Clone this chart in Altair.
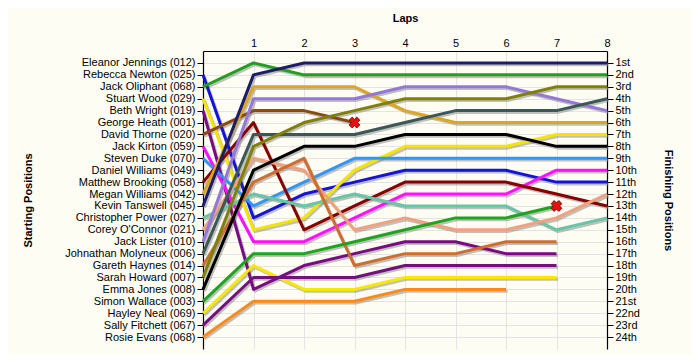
import json
import altair as alt
import pandas as pd

# Starting grid (positions 1..24)
drivers = [
    "Eleanor Jennings (012)", "Rebecca Newton (025)", "Jack Oliphant (068)",
    "Stuart Wood (029)", "Beth Wright (019)", "George Heath (001)",
    "David Thorne (020)", "Jack Kirton (059)", "Steven Duke (070)",
    "Daniel Williams (049)", "Matthew Brooking (058)", "Megan Williams (042)",
    "Kevin Tanswell (045)", "Christopher Power (027)", "Corey O'Connor (021)",
    "Jack Lister (010)", "Johnathan Molyneux (006)", "Gareth Haynes (014)",
    "Sarah Howard (007)", "Emma Jones (008)", "Simon Wallace (003)",
    "Hayley Neal (069)", "Sally Fitchett (067)", "Rosie Evans (068)",
]

finish_labels = [
    "1st", "2nd", "3rd", "4th", "5th", "6th", "7th", "8th", "9th", "10th",
    "11th", "12th", "13th", "14th", "15th", "16th", "17th", "18th", "19th",
    "20th", "21st", "22nd", "23rd", "24th",
]

laps = [1, 2, 3, 4, 5, 6, 7, 8]

# Position at lap 0, 1, 2, ... for each driver who started
pos_rebecca = [2, 14, 12, 11, 10, 10, 10, 11, 11]
pos_oliphant = [3, 1, 2, 2, 2, 2, 2, 2, 2]
pos_wood = [4, 15, 14, 10, 8, 8, 8, 7, 7]
pos_wright = [5, 20, 18, 17, 16, 16, 17, 17]
pos_thorne = [7, 5, 5, 6]
pos_kirton = [8, 16, 16, 14, 12, 12, 12, 10, 10]
pos_duke = [9, 13, 11, 9, 9, 9, 9, 9, 9]
pos_brooking = [11, 6, 15, 13, 11, 11, 11, 12, 13]
pos_megan = [12, 3, 3, 3, 5, 6, 6, 6, 6]
pos_tanswell = [13, 2, 1, 1, 1, 1, 1, 1, 1]
pos_power = [14, 12, 13, 12, 13, 13, 13, 15, 14]
pos_oconnor = [15, 9, 10, 15, 14, 15, 15, 14, 12]
pos_lister = [16, 4, 4, 4, 3, 3, 3, 4, 5]
pos_molyneux = [17, 7, 7, 7, 6, 5, 5, 5, 4]
pos_haynes = [18, 11, 9, 18, 17, 17, 16, 16]
pos_howard = [19, 8, 6, 5, 4, 4, 4, 3, 3]
pos_jones = [20, 10, 8, 8, 7, 7, 7, 8, 8]
pos_wallace = [21, 17, 17, 16, 15, 14, 14, 13]
pos_neal = [22, 18, 20, 20, 19, 19, 19, 19]
pos_fitchett = [23, 19, 19, 19, 18, 18, 18, 18]
pos_evans = [24, 21, 21, 21, 20, 20, 20]

series = [
    ("Rebecca Newton (025)", pos_rebecca, "#1414d8"),
    ("Jack Oliphant (068)", pos_oliphant, "#1fa01f"),
    ("Stuart Wood (029)", pos_wood, "#f5e400"),
    ("Beth Wright (019)", pos_wright, "#7a0a82"),
    ("David Thorne (020)", pos_thorne, "#8a4a12"),
    ("Jack Kirton (059)", pos_kirton, "#ff10ff"),
    ("Steven Duke (070)", pos_duke, "#3396f5"),
    ("Matthew Brooking (058)", pos_brooking, "#860000"),
    ("Megan Williams (042)", pos_megan, "#dca623"),
    ("Kevin Tanswell (045)", pos_tanswell, "#1c1c6a"),
    ("Christopher Power (027)", pos_power, "#66c6a6"),
    ("Corey O'Connor (021)", pos_oconnor, "#f3a07e"),
    ("Jack Lister (010)", pos_lister, "#9577d8"),
    ("Johnathan Molyneux (006)", pos_molyneux, "#3b5757"),
    ("Gareth Haynes (014)", pos_haynes, "#cd6e30"),
    ("Sarah Howard (007)", pos_howard, "#7f7f0a"),
    ("Emma Jones (008)", pos_jones, "#000000"),
    ("Simon Wallace (003)", pos_wallace, "#1ea51e"),
    ("Hayley Neal (069)", pos_neal, "#f8e800"),
    ("Sally Fitchett (067)", pos_fitchett, "#74107e"),
    ("Rosie Evans (068)", pos_evans, "#ff8a1c"),
]

# Retirements: lap and position of the red crosses
retire_laps = [3, 7]
retire_pos = [6, 13]

rows = []
for name, plist, _c in series:
    for lap, p in enumerate(plist):
        rows.append({"driver": name, "lap": lap, "pos": p})
df = pd.DataFrame(rows)
df_x = pd.DataFrame({"lap": retire_laps, "pos": retire_pos})

FONT = "Liberation Sans"

x_enc = alt.X(
    "lap:Q",
    scale=alt.Scale(domain=[0, 8], nice=False, zero=False),
    axis=alt.Axis(
        orient="top", values=laps, title="Laps", titleFontWeight="bold",
        titleFont=FONT, titleFontSize=11, titleColor="black",
        titleY=-33, titleBaseline="middle",
        labelFont=FONT, labelFontSize=11, labelColor="black",
        tickSize=0, labelPadding=3, domainColor="black", domainWidth=1.2,
        grid=True, gridColor="#e4e4e4", labelFlush=False,
    ),
)

y_scale = alt.Scale(domain=[0, 25], reverse=True, nice=False, zero=False)

left_labels = json.dumps([""] + drivers)
right_labels = json.dumps([""] + finish_labels)

y_left = alt.Y(
    "pos:Q", scale=y_scale,
    axis=alt.Axis(
        orient="left", values=list(range(1, 25)),
        labelExpr=f"{left_labels}[datum.value]",
        title="Starting Positions", titleFontWeight="bold", titleFont=FONT,
        titleFontSize=11, titleColor="black", titleAngle=-90,
        titleX=-175, titleY=149, titleBaseline="middle", titleAlign="center",
        labelFont=FONT, labelFontSize=11, labelColor="black",
        tickSize=6, tickColor="black", labelPadding=2,
        domainColor="black", domainWidth=1.2,
        grid=True, gridColor="#e4e4e4", labelFlush=False,
    ),
)

y_right = alt.Y(
    "pos:Q", scale=y_scale,
    axis=alt.Axis(
        orient="right", values=list(range(1, 25)),
        labelExpr=f"{right_labels}[datum.value]",
        title="Finishing Positions", titleFontWeight="bold", titleFont=FONT,
        titleFontSize=11, titleColor="black", titleAngle=90,
        titleX=60, titleY=149, titleBaseline="middle", titleAlign="center",
        labelFont=FONT, labelFontSize=11, labelColor="black",
        tickSize=6, tickColor="black", labelPadding=2,
        domainColor="black", domainWidth=1.2,
        grid=False, labelFlush=False,
    ),
)

shadow = alt.Chart(df).mark_line(
    strokeWidth=3, color="#8c8c8c", opacity=0.55, xOffset=1.5, yOffset=1.8,
    strokeJoin="round",
).encode(x=x_enc, y=y_left, detail="driver:N", order="lap:Q")

lines = alt.Chart(df).mark_line(strokeWidth=3, strokeJoin="round").encode(
    x=x_enc, y=y_right,
    color=alt.Color(
        "driver:N",
        scale=alt.Scale(domain=[s[0] for s in series], range=[s[2] for s in series]),
        legend=None,
    ),
    order="lap:Q",
)

crosses = alt.Chart(df_x).mark_point(
    shape="cross", angle=45, filled=True, fill="#e81010", stroke="#700000",
    strokeWidth=0.8, size=120, opacity=1,
).encode(
    x=alt.X("lap:Q", scale=alt.Scale(domain=[0, 8], nice=False, zero=False)),
    y=alt.Y("pos:Q", scale=y_scale, axis=None),
)

chart = alt.layer(shadow, lines, crosses).resolve_axis(y="independent").properties(
    width=404, height=298,
    autosize=alt.AutoSizeParams(type="none"),
    padding={"left": 195, "top": 43, "right": 85, "bottom": 5},
    background="#fdfdf4",
).configure_view(strokeWidth=0)

chart.save("out.html", embed_options={"renderer": "svg", "actions": False})
